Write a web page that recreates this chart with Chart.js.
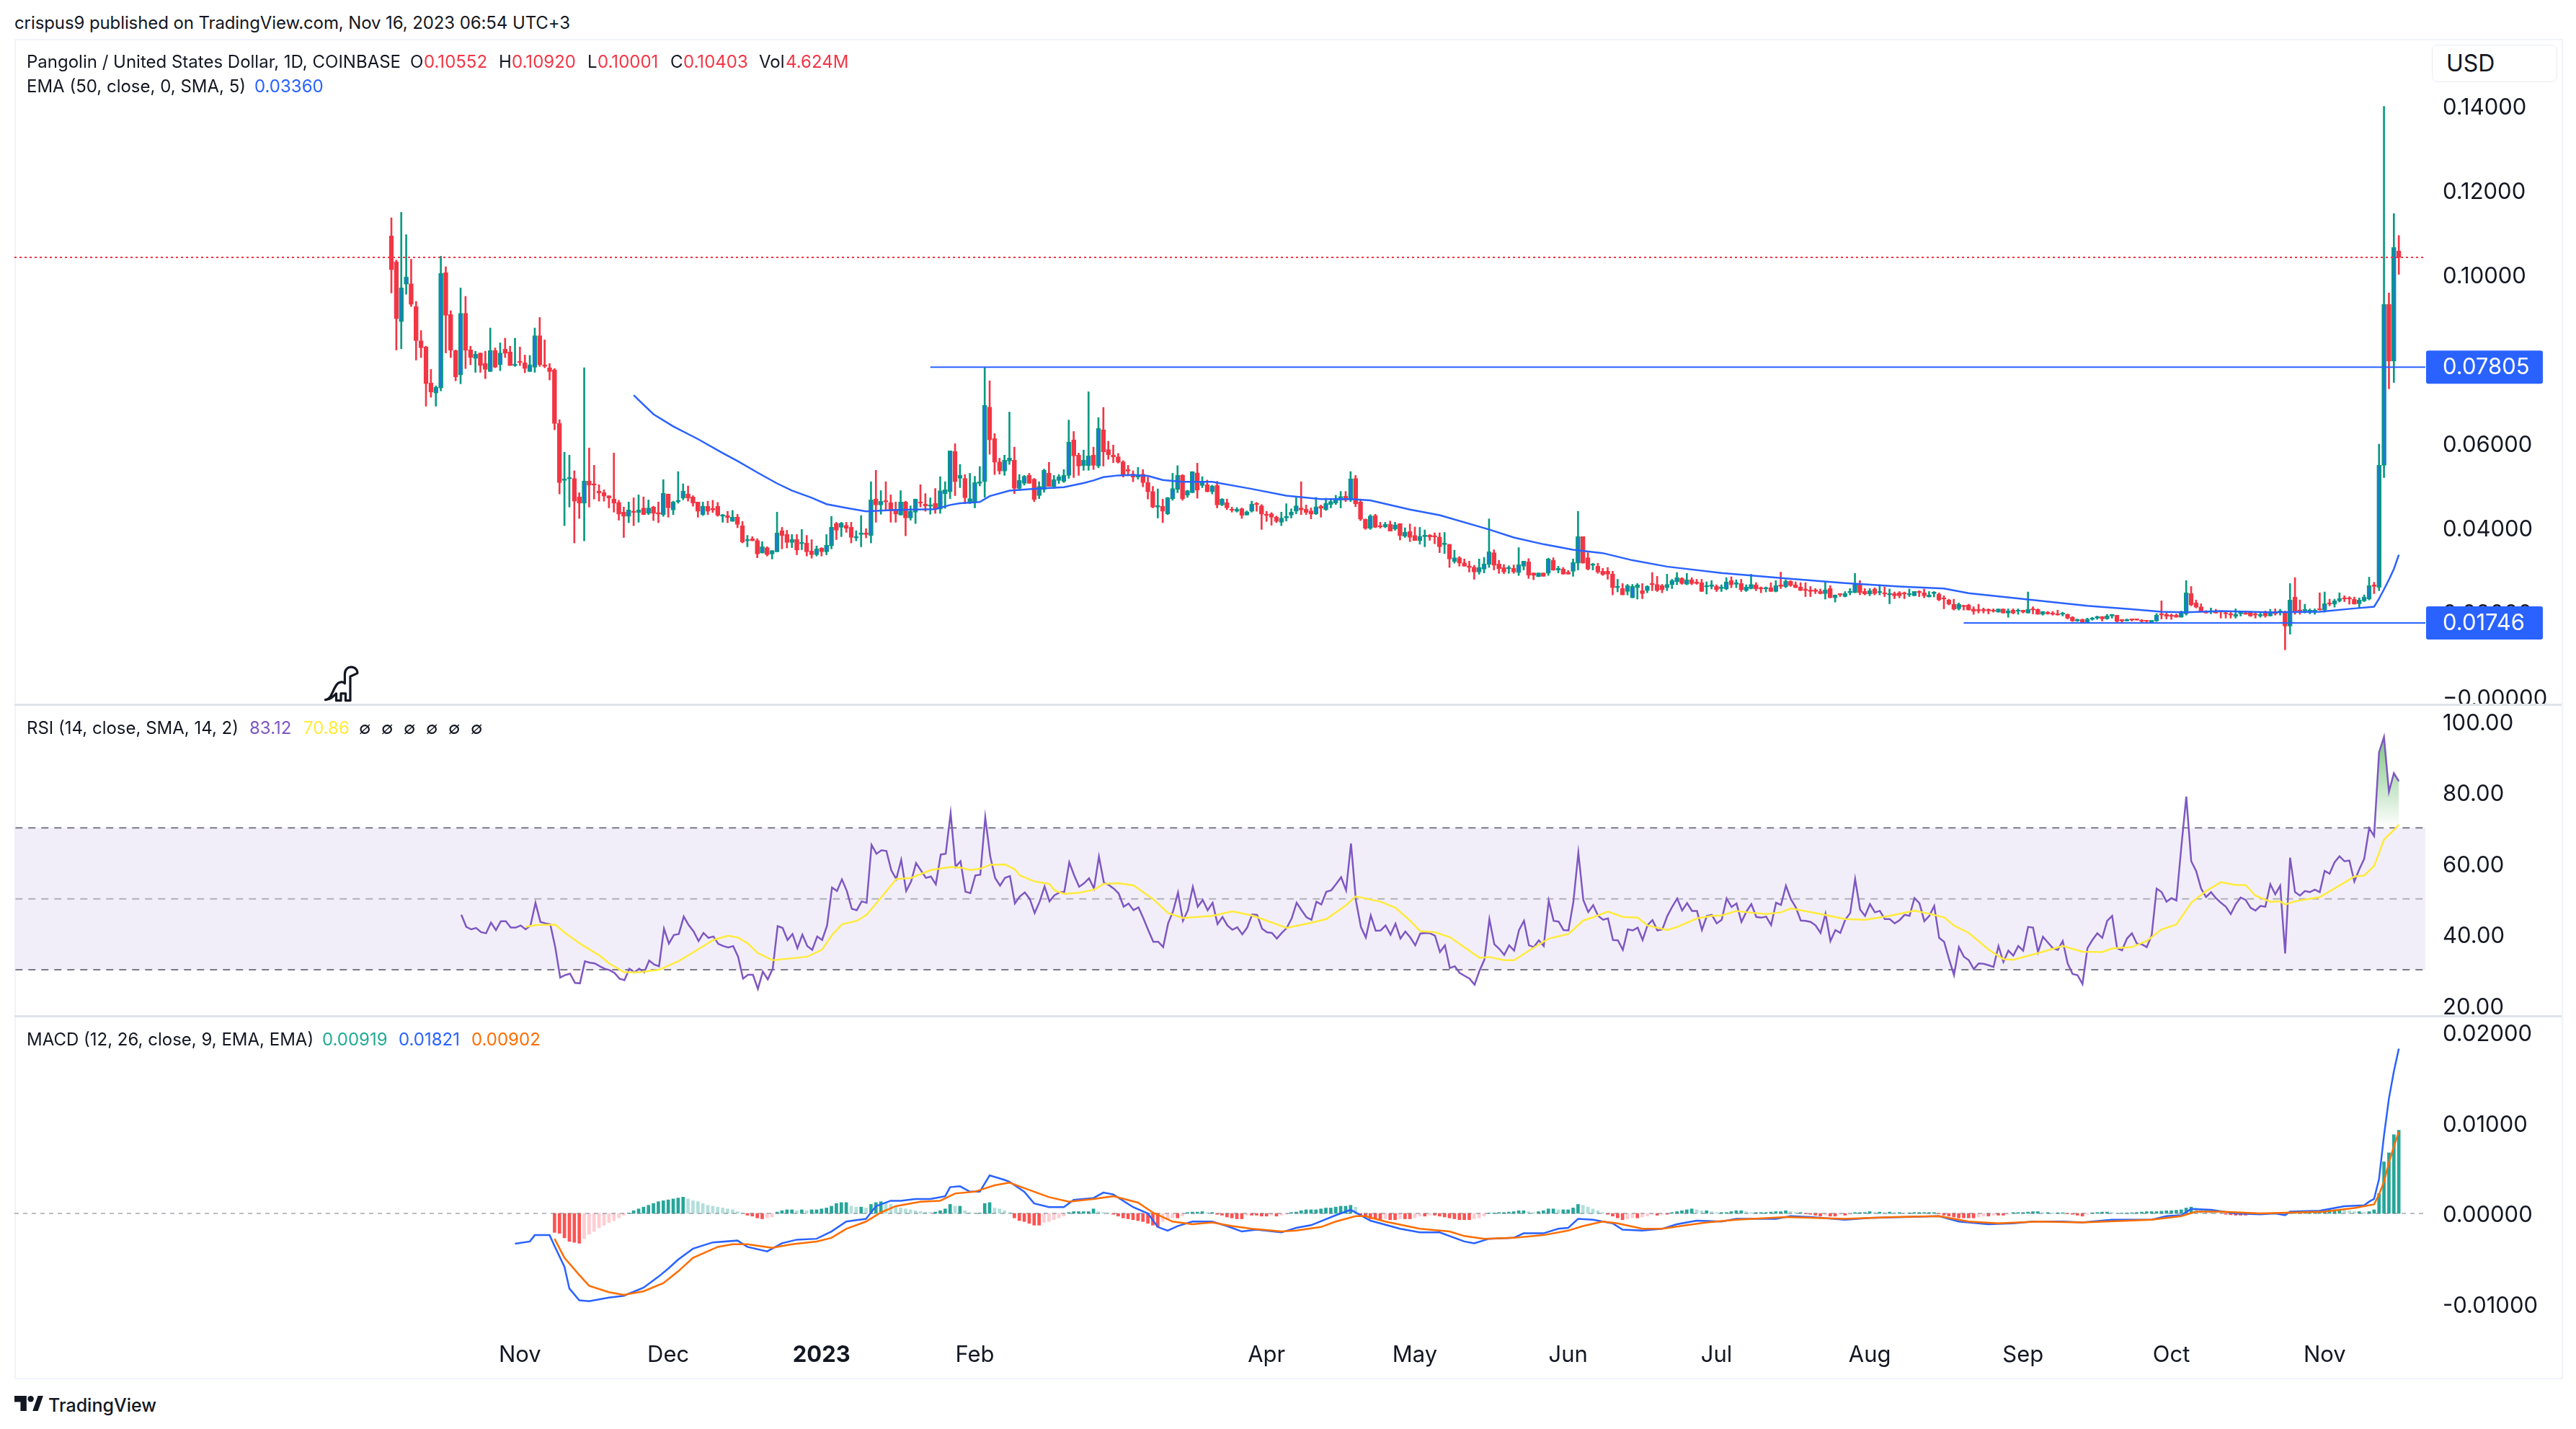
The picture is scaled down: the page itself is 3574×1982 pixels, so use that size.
<!DOCTYPE html>
<html lang="en">
<head>
<meta charset="UTF-8">
<title>Pangolin / United States Dollar</title>
<style>
  html, body { margin: 0; padding: 0; background: #fff; }
  body { width: 3574px; height: 1982px; position: relative; overflow: hidden; font-family: Inter, "Noto Sans", sans-serif; color: #131722; }
  canvas { position: absolute; left: 20px; }
  .frame { position: absolute; left: 20px; top: 54px; width: 3532px; height: 1855px; border: 2px solid #f0f3fa; }
  .sep { position: absolute; left: 20px; width: 3534px; height: 3px; background: #e0e3eb; }
  .t { position: absolute; font-size: 24px; line-height: 30px; white-space: nowrap; }
  .usd { position: absolute; left: 3374px; top: 62px; width: 172px; height: 50px; border: 1px solid #e9ecf2; border-radius: 8px; background: #fff; font-size: 32px; line-height: 50px; text-indent: 19px; }
  svg { position: absolute; }
</style>
</head>
<body>
<div class="frame"></div>
<canvas id="priceChart" width="3534" height="923" style="top:54px"></canvas>
<canvas id="rsiChart" width="3534" height="432" style="top:977px"></canvas>
<canvas id="macdChart" width="3534" height="502" style="top:1409px"></canvas>
<div class="sep" style="top:976px"></div>
<div class="sep" style="top:1408px"></div>

<div class="t" style="left:20px;top:17px;letter-spacing:-.1px">crispus9 published on TradingView.com, Nov 16, 2023 06:54 UTC+3</div>

<div class="t" style="left:37px;top:71px">Pangolin / United States Dollar, 1D, COINBASE</div>
<div class="t" style="left:569px;top:71px">O</div><div class="t" style="left:588px;top:71px;color:#f23645">0.10552</div>
<div class="t" style="left:692px;top:71px">H</div><div class="t" style="left:710px;top:71px;color:#f23645">0.10920</div>
<div class="t" style="left:815px;top:71px">L</div><div class="t" style="left:829px;top:71px;color:#f23645">0.10001</div>
<div class="t" style="left:930px;top:71px">C</div><div class="t" style="left:948px;top:71px;color:#f23645">0.10403</div>
<div class="t" style="left:1053px;top:71px">Vol</div><div class="t" style="left:1090px;top:71px;color:#f23645">4.624M</div>
<div class="t" style="left:37px;top:105px">EMA (50, close, 0, SMA, 5)</div><div class="t" style="left:353px;top:105px;color:#2962ff">0.03360</div>

<div class="t" style="left:37px;top:995px">RSI (14, close, SMA, 14, 2)</div>
<div class="t" style="left:346px;top:995px;color:#7e57c2">83.12</div><div class="t" style="left:421px;top:995px;color:#ffeb3b">70.86</div>
<div class="t" style="left:498px;top:995px">∅</div><div class="t" style="left:529px;top:995px">∅</div><div class="t" style="left:560px;top:995px">∅</div><div class="t" style="left:591px;top:995px">∅</div><div class="t" style="left:622px;top:995px">∅</div><div class="t" style="left:653px;top:995px">∅</div>

<div class="t" style="left:37px;top:1427px">MACD (12, 26, close, 9, EMA, EMA)</div>
<div class="t" style="left:447px;top:1427px;color:#22ab94">0.00919</div><div class="t" style="left:553px;top:1427px;color:#2962ff">0.01821</div><div class="t" style="left:654px;top:1427px;color:#ff6d00">0.00902</div>

<div class="usd">USD</div>

<svg style="left:448px;top:922px" width="50" height="54" viewBox="0 0 46 50"><path d="M3 45 C10 45 12 34 16 28 C20 20 26 22 28 24 L28 12 C28 6 32 3 36 3 C41 3 45 7 44 11 L35 15 L35 46 L29 46 L29 37 L23 37 L23 46 L17 46 L17 37 C13 41 9 45 3 45 Z" fill="#fff" stroke="#131722" stroke-width="3" stroke-linejoin="round"/></svg>
<svg style="left:20px;top:1936px" width="40" height="21" viewBox="0 0 38 20"><path d="M0 0H16V20H8V8H0Z M24 20L31 0H38L31 20Z" fill="#131722"/><circle cx="21.5" cy="4" r="4" fill="#131722"/></svg>
<div class="t" style="left:67px;top:1934px;font-size:25px;font-weight:500">TradingView</div>

<script src="https://cdn.jsdelivr.net/npm/chart.js"></script>
<script>
// day 0 = Oct 6 2022, one candle per day up to day 406
const opens = [
.1091,.1030,.0888,.0977,.0978,.0924,.0843,.0828,.0743,.0719,
.0731,.1004,.0905,.0820,.0762,.0908,.0821,.0801,.0814,.0789,
.0770,.0820,.0786,.0823,.0816,.0784,.0794,.0791,.0770,.0780,
.0855,.0786,.0779,.0774,.0647,.0512,.0516,.0517,.0473,.0458,
.0511,.0504,.0487,.0483,.0476,.0468,.0460,.0437,.0427,.0439,
.0436,.0447,.0434,.0449,.0436,.0431,.0480,.0442,.0461,.0470,
.0480,.0473,.0461,.0431,.0451,.0446,.0451,.0427,.0429,.0415,
.0425,.0405,.0369,.0374,.0370,.0340,.0353,.0338,.0343,.0393,
.0384,.0365,.0372,.0362,.0364,.0345,.0336,.0352,.0343,.0357,
.0410,.0401,.0406,.0401,.0376,.0384,.0388,.0382,.0468,.0454,
.0464,.0459,.0444,.0430,.0461,.0423,.0437,.0461,.0456,.0451,
.0458,.0444,.0481,.0485,.0581,.0517,.0517,.0461,.0461,.0505,
.0509,.0686,.0611,.0556,.0534,.0558,.0560,.0493,.0505,.0524,
.0515,.0476,.0490,.0529,.0498,.0512,.0510,.0524,.0608,.0572,
.0547,.0547,.0572,.0546,.0632,.0585,.0572,.0568,.0556,.0538,
.0527,.0520,.0527,.0507,.0486,.0449,.0451,.0433,.0469,.0491,
.0524,.0477,.0483,.0530,.0500,.0502,.0485,.0500,.0454,.0459,
.0444,.0439,.0445,.0430,.0439,.0458,.0452,.0431,.0433,.0425,
.0413,.0423,.0430,.0439,.0447,.0444,.0440,.0433,.0451,.0443,
.0455,.0458,.0465,.0475,.0466,.0517,.0461,.0420,.0399,.0429,
.0405,.0402,.0408,.0397,.0410,.0380,.0391,.0382,.0370,.0379,
.0383,.0380,.0378,.0360,.0361,.0320,.0329,.0317,.0310,.0307,
.0295,.0302,.0313,.0341,.0314,.0306,.0303,.0304,.0294,.0309,
.0319,.0293,.0284,.0293,.0292,.0323,.0300,.0302,.0295,.0297,
.0316,.0379,.0329,.0311,.0309,.0297,.0297,.0290,.0258,.0256,
.0249,.0234,.0258,.0251,.0251,.0268,.0266,.0263,.0258,.0265,
.0272,.0280,.0266,.0277,.0272,.0270,.0260,.0261,.0261,.0256,
.0255,.0275,.0266,.0268,.0251,.0256,.0265,.0258,.0255,.0258,
.0249,.0265,.0260,.0273,.0265,.0260,.0255,.0253,.0253,.0249,
.0244,.0256,.0234,.0244,.0237,.0246,.0246,.0268,.0249,.0243,
.0255,.0246,.0246,.0241,.0244,.0246,.0246,.0241,.0239,.0249,
.0246,.0236,.0244,.0243,.0234,.0229,.0219,.0208,.0215,.0217,
.0208,.0207,.0207,.0207,.0205,.0200,.0208,.0198,.0205,.0202,
.0205,.0198,.0208,.0207,.0195,.0200,.0198,.0196,.0195,.0195,
.0188,.0179,.0183,.0174,.0183,.0186,.0190,.0184,.0191,.0193,
.0183,.0179,.0184,.0184,.0181,.0181,.0174,.0179,.0196,.0195,
.0193,.0193,.0188,.0196,.0244,.0222,.0213,.0203,.0200,.0203,
.0201,.0198,.0195,.0190,.0196,.0198,.0202,.0195,.0191,.0200,
.0191,.0201,.0200,.0201,.0167,.0236,.0205,.0203,.0200,.0200,
.0208,.0205,.0222,.0219,.0227,.0234,.0234,.0231,.0220,.0227,
.0231,.0265,.0259,.0548,.0929,.0795,.10552];
const highs = [
.1134,.1034,.1147,.1094,.1036,.0936,.0867,.0830,.0775,.0736,
.1043,.1018,.0914,.0821,.0968,.0948,.0830,.0818,.0814,.0818,
.0873,.0826,.0838,.0849,.0830,.0849,.0828,.0809,.0808,.0873,
.0898,.0845,.0789,.0777,.0656,.0579,.0572,.0535,.0483,.0779,
.0589,.0548,.0502,.0490,.0476,.0577,.0465,.0449,.0461,.0471,
.0478,.0473,.0466,.0451,.0461,.0514,.0480,.0463,.0533,.0504,
.0499,.0476,.0461,.0461,.0463,.0465,.0460,.0432,.0439,.0441,
.0432,.0415,.0382,.0379,.0374,.0367,.0355,.0346,.0437,.0401,
.0394,.0384,.0384,.0396,.0382,.0372,.0357,.0353,.0384,.0427,
.0413,.0413,.0413,.0413,.0393,.0429,.0398,.0509,.0536,.0488,
.0509,.0478,.0461,.0488,.0463,.0452,.0468,.0502,.0481,.0471,
.0493,.0521,.0509,.0582,.0599,.0550,.0526,.0529,.0522,.0545,
.0779,.0748,.0623,.0565,.0572,.0674,.0591,.0526,.0524,.0529,
.0517,.0509,.0539,.0555,.0524,.0526,.0538,.0655,.0628,.0577,
.0584,.0722,.0591,.0661,.0685,.0605,.0596,.0576,.0559,.0548,
.0535,.0543,.0538,.0520,.0498,.0492,.0468,.0472,.0529,.0547,
.0526,.0489,.0533,.0553,.0521,.0513,.0501,.0510,.0469,.0468,
.0449,.0448,.0447,.0440,.0463,.0460,.0455,.0439,.0436,.0428,
.0437,.0457,.0445,.0471,.0509,.0454,.0447,.0472,.0454,.0470,
.0468,.0477,.0486,.0486,.0533,.0524,.0468,.0421,.0431,.0432,
.0413,.0413,.0416,.0413,.0410,.0400,.0409,.0402,.0401,.0395,
.0384,.0388,.0388,.0389,.0361,.0347,.0332,.0326,.0321,.0311,
.0326,.0330,.0421,.0348,.0323,.0313,.0310,.0312,.0353,.0321,
.0327,.0293,.0293,.0293,.0328,.0329,.0309,.0306,.0299,.0326,
.0439,.0379,.0341,.0316,.0316,.0304,.0306,.0297,.0278,.0268,
.0266,.0266,.0268,.0268,.0263,.0294,.0285,.0266,.0290,.0278,
.0294,.0282,.0292,.0282,.0278,.0278,.0272,.0275,.0265,.0265,
.0282,.0284,.0277,.0278,.0265,.0290,.0270,.0260,.0260,.0270,
.0275,.0295,.0277,.0275,.0272,.0270,.0270,.0261,.0256,.0255,
.0273,.0263,.0241,.0244,.0249,.0256,.0292,.0275,.0256,.0256,
.0258,.0265,.0260,.0255,.0248,.0249,.0248,.0255,.0249,.0251,
.0255,.0249,.0249,.0246,.0239,.0231,.0231,.0222,.0217,.0219,
.0213,.0219,.0210,.0208,.0208,.0208,.0208,.0208,.0208,.0208,
.0205,.0248,.0213,.0208,.0202,.0202,.0202,.0205,.0200,.0196,
.0190,.0184,.0184,.0186,.0188,.0191,.0190,.0195,.0195,.0193,
.0183,.0184,.0184,.0184,.0183,.0181,.0181,.0197,.0227,.0198,
.0196,.0196,.0203,.0275,.0261,.0229,.0220,.0204,.0210,.0207,
.0203,.0200,.0203,.0208,.0201,.0203,.0202,.0198,.0198,.0203,
.0207,.0208,.0207,.0203,.0268,.0282,.0229,.0219,.0208,.0208,
.0246,.0248,.0231,.0231,.0246,.0239,.0237,.0236,.0234,.0241,
.0283,.0271,.0598,.1398,.0956,.1144,.10920];
const lows = [
.0956,.0821,.0824,.0953,.0924,.0797,.0803,.0688,.0709,.0688,
.0724,.0814,.0803,.0748,.0741,.0777,.0786,.0768,.0768,.0753,
.0770,.0779,.0772,.0803,.0784,.0782,.0784,.0767,.0770,.0768,
.0782,.0779,.0750,.0632,.0480,.0405,.0449,.0364,.0422,.0369,
.0449,.0468,.0463,.0463,.0447,.0437,.0418,.0377,.0412,.0405,
.0413,.0431,.0431,.0417,.0412,.0427,.0425,.0431,.0458,.0466,
.0463,.0451,.0425,.0429,.0431,.0436,.0427,.0413,.0412,.0415,
.0400,.0364,.0355,.0369,.0329,.0340,.0333,.0326,.0343,.0350,
.0352,.0353,.0336,.0348,.0333,.0328,.0333,.0333,.0336,.0350,
.0372,.0379,.0389,.0364,.0369,.0355,.0376,.0364,.0413,.0432,
.0440,.0413,.0413,.0430,.0381,.0418,.0410,.0449,.0439,.0432,
.0434,.0434,.0446,.0469,.0476,.0495,.0457,.0457,.0447,.0499,
.0472,.0574,.0526,.0527,.0524,.0550,.0481,.0488,.0501,.0505,
.0462,.0469,.0484,.0498,.0493,.0505,.0507,.0517,.0519,.0524,
.0536,.0536,.0538,.0542,.0546,.0562,.0554,.0553,.0520,.0523,
.0509,.0515,.0497,.0468,.0447,.0423,.0412,.0431,.0465,.0483,
.0465,.0472,.0483,.0470,.0495,.0485,.0480,.0447,.0452,.0443,
.0437,.0437,.0422,.0430,.0437,.0439,.0396,.0415,.0406,.0412,
.0405,.0416,.0423,.0433,.0431,.0431,.0421,.0431,.0425,.0441,
.0447,.0455,.0447,.0462,.0462,.0450,.0417,.0396,.0396,.0400,
.0399,.0400,.0392,.0394,.0371,.0377,.0367,.0370,.0361,.0355,
.0370,.0362,.0341,.0339,.0306,.0316,.0309,.0309,.0295,.0278,
.0290,.0293,.0306,.0300,.0292,.0291,.0292,.0292,.0287,.0300,
.0280,.0277,.0284,.0285,.0287,.0299,.0293,.0290,.0290,.0285,
.0300,.0316,.0300,.0300,.0292,.0287,.0278,.0241,.0248,.0241,
.0241,.0234,.0231,.0232,.0246,.0251,.0249,.0246,.0251,.0256,
.0265,.0266,.0265,.0265,.0266,.0249,.0243,.0255,.0249,.0249,
.0253,.0258,.0258,.0249,.0249,.0255,.0251,.0246,.0248,.0249,
.0248,.0256,.0258,.0261,.0258,.0251,.0237,.0237,.0244,.0243,
.0231,.0234,.0224,.0237,.0236,.0241,.0246,.0241,.0241,.0239,
.0241,.0241,.0237,.0220,.0232,.0234,.0232,.0237,.0239,.0237,
.0234,.0236,.0236,.0227,.0208,.0217,.0205,.0205,.0205,.0205,
.0195,.0198,.0198,.0196,.0200,.0200,.0198,.0188,.0196,.0195,
.0198,.0198,.0196,.0195,.0193,.0195,.0193,.0193,.0191,.0184,
.0178,.0178,.0174,.0174,.0181,.0183,.0179,.0183,.0186,.0176,
.0176,.0179,.0179,.0181,.0174,.0174,.0174,.0178,.0184,.0184,
.0183,.0188,.0188,.0193,.0215,.0210,.0200,.0198,.0196,.0198,
.0186,.0186,.0186,.0186,.0191,.0195,.0190,.0186,.0188,.0188,
.0191,.0193,.0193,.0111,.0148,.0195,.0195,.0198,.0196,.0195,
.0205,.0200,.0215,.0212,.0224,.0225,.0219,.0219,.0210,.0225,
.0229,.0244,.0251,.0519,.0729,.0744,.10001];
const closes = [
.1011,.0895,.0968,.0994,.0929,.0843,.0826,.0741,.0721,.0733,
.1002,.0903,.0820,.0757,.0908,.0820,.0803,.0811,.0784,.0775,
.0820,.0780,.0814,.0813,.0784,.0787,.0791,.0777,.0786,.0855,
.0786,.0782,.0770,.0647,.0507,.0516,.0519,.0463,.0458,.0511,
.0501,.0501,.0482,.0475,.0470,.0458,.0432,.0427,.0442,.0436,
.0442,.0431,.0447,.0434,.0432,.0482,.0447,.0461,.0465,.0487,
.0470,.0458,.0439,.0451,.0439,.0442,.0429,.0431,.0424,.0425,
.0408,.0366,.0372,.0369,.0338,.0355,.0336,.0346,.0388,.0382,
.0365,.0372,.0347,.0365,.0343,.0336,.0350,.0343,.0359,.0401,
.0394,.0411,.0399,.0377,.0379,.0388,.0384,.0466,.0454,.0463,
.0461,.0440,.0432,.0461,.0423,.0439,.0468,.0458,.0452,.0454,
.0444,.0488,.0490,.0582,.0509,.0524,.0471,.0469,.0507,.0509,
.0690,.0608,.0555,.0534,.0560,.0565,.0493,.0512,.0522,.0505,
.0467,.0498,.0536,.0498,.0514,.0521,.0524,.0603,.0570,.0546,
.0560,.0570,.0548,.0635,.0580,.0573,.0568,.0555,.0524,.0534,
.0520,.0526,.0507,.0485,.0449,.0452,.0439,.0471,.0493,.0524,
.0469,.0488,.0533,.0489,.0509,.0485,.0499,.0454,.0468,.0447,
.0441,.0444,.0429,.0438,.0456,.0455,.0432,.0429,.0425,.0415,
.0423,.0427,.0437,.0452,.0442,.0436,.0432,.0450,.0446,.0458,
.0462,.0468,.0474,.0465,.0516,.0457,.0420,.0399,.0428,.0401,
.0402,.0408,.0392,.0407,.0381,.0389,.0377,.0370,.0380,.0382,
.0378,.0378,.0355,.0364,.0326,.0329,.0316,.0309,.0306,.0295,
.0306,.0314,.0343,.0311,.0303,.0295,.0306,.0295,.0313,.0321,
.0288,.0287,.0293,.0285,.0326,.0300,.0304,.0290,.0290,.0318,
.0379,.0316,.0302,.0314,.0295,.0289,.0290,.0258,.0261,.0241,
.0263,.0261,.0265,.0244,.0261,.0265,.0251,.0253,.0266,.0275,
.0282,.0268,.0277,.0268,.0268,.0249,.0263,.0265,.0253,.0260,
.0272,.0265,.0270,.0253,.0260,.0266,.0255,.0255,.0258,.0249,
.0263,.0261,.0273,.0263,.0258,.0251,.0251,.0249,.0249,.0244,
.0253,.0234,.0241,.0241,.0244,.0249,.0268,.0246,.0243,.0251,
.0244,.0249,.0243,.0244,.0239,.0239,.0243,.0244,.0249,.0246,
.0239,.0241,.0248,.0229,.0231,.0219,.0207,.0219,.0213,.0205,
.0202,.0203,.0203,.0203,.0202,.0208,.0198,.0203,.0198,.0205,
.0200,.0207,.0205,.0195,.0202,.0196,.0195,.0193,.0198,.0186,
.0179,.0183,.0174,.0184,.0186,.0190,.0184,.0191,.0195,.0178,
.0179,.0183,.0181,.0181,.0178,.0178,.0181,.0193,.0193,.0190,
.0190,.0188,.0200,.0246,.0217,.0212,.0201,.0198,.0203,.0198,
.0200,.0196,.0193,.0195,.0200,.0195,.0191,.0193,.0195,.0191,
.0201,.0196,.0203,.0167,.0229,.0200,.0200,.0207,.0205,.0205,
.0205,.0220,.0219,.0227,.0232,.0231,.0231,.0219,.0229,.0236,
.0263,.0261,.0548,.0929,.0795,.1064,.10403];

const emaDays = [49,53,57,62,67,70,74,78,81,85,88,92,96,101,106,110,113,115,119,121,125,130,136,140,142,144,147,150,153,156,160,166,174,181,188,194,198,206,212,222,227,233,239,245,251,258,269,282,294,305,314,319,331,343,352,358,363,370,380,390,397,401,402,403,404,405,406];
const emaValues = [.0714,.0669,.0640,.0610,.0577,.0558,.0531,.0505,.0488,.0471,.0456,.0447,.0439,.0442,.0443,.0444,.0454,.0458,.0461,.0475,.0488,.0492,.0496,.0506,.0512,.0520,.0524,.0525,.0523,.0513,.0509,.0509,.0492,.0476,.0468,.0468,.0465,.0443,.0430,.0396,.0377,.0361,.0348,.0340,.0323,.0308,.0293,.0280,.0269,.0261,.0256,.0245,.0230,.0215,.0207,.0201,.0200,.0203,.0200,.0201,.0209,.0213,.0232,.0254,.0277,.0302,.0336];

const levelLines = [.07805, .01746];
const levelStartDays = [109, 318];
const lastClose = .10403;

const priceTicks = [0, .02, .04, .06, .10, .12, .14];
const priceTickLabels = ['−0.00000', '0.02000', '0.04000', '0.06000', '0.10000', '0.12000', '0.14000'];

// RSI starts at day 14
const rsiStartDay = 14;
const rsiValues = [
45.5,42.1,41.4,41.8,40.6,40.3,
43.3,41.2,43.7,43.7,41.9,41.9,42.5,41.4,42.5,48.9,
43.5,43.1,42.8,36.4,27.8,28.5,28.9,26.3,26.2,32.4,
32,31.8,31,30.3,29.9,29.1,27.5,27.1,30.3,29.3,
30.3,29.3,32.6,31.5,31,41.6,37.4,39.8,40.1,45,
42.6,40.8,38.1,40.4,39,39.4,37.3,36.7,36.3,36.7,
33.7,27.5,28.6,28.6,24.6,29.5,27.3,30.3,42.3,41.8,
38.4,40.1,36.1,39.9,36.7,35.6,39.4,38.4,42.5,53.2,
52.2,55.5,52.2,47.2,46.8,49.3,48.9,65.2,62.7,63.7,
63.5,58,55.6,61,52.2,54.9,60.1,58,55.9,56.3,
54.1,62.5,62.7,74.1,59,60.6,52,51.6,56.6,56.8,
73,62,55.9,53.7,55.9,56.4,48.7,50.7,51.8,50,
46,49.2,53.5,49.3,51,51.8,52,60.3,56.6,53.4,
54.4,55.8,52.9,61.9,54.6,53.9,52.9,51.5,47.8,48.7,
46.8,47.6,44.5,41.1,37.9,37.9,36.4,43.1,46.5,51.8,
43.8,46.8,53.4,47.8,49.7,46.8,48.9,42.9,44.9,42.5,
41.3,42,40,41.9,45.6,45.5,41.6,40.6,40.4,38.8,
40.4,41.8,44.5,48.9,46.8,44.8,44.1,49.2,48.4,52,
52.4,54.2,56.1,52.4,65.6,49.5,42.1,39.1,45.3,41,
41.1,42.5,39.9,43,38.8,40.8,39.1,36.9,40.2,40.4,
40.3,39.6,35,36.9,30.5,31,29.1,28.3,27.5,25.8,
29.7,32.9,44.3,37.2,35.9,34.2,36.9,35.4,41.2,43.8,
36.9,36.4,38.3,36.7,49.5,43.8,43.6,41.2,41.1,49.2,
63,49.7,46.3,48.2,45.2,44.1,44.5,38.4,38.3,35.6,
41.4,41.1,41.9,38.4,42.6,44,41.1,41.4,45.2,47.8,
50.1,46.7,48.8,46.6,46.6,41.2,45.2,45.5,43.1,44.1,
50.1,47.7,48.7,43.5,46.4,48.5,44.9,44.7,45,42.6,
48.9,48.3,53.7,49.9,47.6,43.9,43.8,43.5,42.5,40.4,
45.8,38.1,41.2,40.4,44.1,46,55.6,47,45.2,48.5,
46.2,46.6,44.3,44.3,43.1,44,45.5,45.2,50.2,48.8,
43.7,45.2,48,39,37.9,33,28.5,36.4,33.7,32.7,
30.2,31.8,31.7,31.3,30.8,36.7,32.2,35.4,34,36.7,
35.4,42.1,41.9,35,39.3,37.7,36.1,35.6,38.1,31.8,
28.8,28.5,26,36.1,38.4,40.3,39,43.8,45.2,36.1,
35.5,38.8,40.3,37.4,37.2,36.4,39.8,52.9,51.9,49.2,
50.2,49.5,64.7,78.8,60.6,57.8,52.9,50.5,51.9,50.2,
48.9,47.8,45.7,48.5,50.4,49.7,47.5,46.7,48,47.8,
54.1,51.3,53.7,34.6,61.6,51.9,50.9,52.2,51.9,52.6,
51.9,57.9,57.1,60.3,62,60.6,60.8,54.9,58.3,61.3,
69.9,67.7,91.3,95.6,80.2,85.4,83.12];
const rsiMaDays = [27,29,33,35,38,42,44,47,50,54,58,61,65,68,70,72,74,77,82,84,87,89,91,94,96,99,102,105,109,113,115,117,119,121,124,126,127,130,133,134,136,139,142,144,147,150,154,157,160,166,170,174,181,186,189,193,195,200,203,206,208,211,214,220,222,225,227,230,234,238,241,243,246,249,252,254,258,260,264,267,269,272,275,278,281,283,285,289,294,298,303,308,311,314,316,319,323,326,328,333,338,342,346,348,352,355,358,361,364,367,370,373,375,377,380,382,383,385,390,395,397,399,401,403,405,406];
const rsiMaValues = [42.1,42.6,42.7,40.4,37.4,34,31.7,29.3,29.3,30,32.5,35,38.4,39.6,39.1,37.4,34.7,32.7,33.4,33.7,35.7,39.8,42.8,43.8,45.5,50.5,55.6,55.9,58.1,59,58.8,58.1,58.5,59.6,59.7,58.3,56.6,54.9,54.2,52.4,51.4,51.7,52.6,54.2,54.4,53.8,49.9,46,44.6,45.2,46.5,45.3,41.8,43.3,44.3,48.2,50.7,49.2,47.5,43.8,40.9,40.6,39.2,33.4,33.6,32.7,32.7,35.4,38.8,40.1,43.9,44.8,46.4,44.9,44.7,42.5,41.2,42.1,44.5,45.2,45.3,46.6,46.1,45.7,46.2,47.3,46.8,45.7,44.3,44.1,45.2,46.7,45.8,44.8,42.5,40.4,35.7,33,32.8,34.7,36.7,35.1,35,36,36.4,38.1,41.4,42.8,48.9,52.2,54.7,53.9,53.9,50.9,49.2,49.3,48.4,49.3,50.5,54.6,56.3,56.6,59.3,66.7,69.4,70.86];
const rsiLevels = [70, 50, 30];
const rsiTicks = [20, 40, 60, 80, 100];
const rsiTickLabels = ['20.00', '40.00', '60.00', '80.00', '100.00'];

const macdDays = [25,28,29,32,33,35,36,38,40,44,47,51,54,56,58,61,65,70,72,76,79,82,86,89,92,96,98,101,103,106,109,112,113,115,117,119,121,124,125,128,130,133,136,138,142,144,146,150,153,155,157,159,162,166,169,172,175,180,183,186,191,194,198,204,208,212,217,219,222,227,229,233,236,238,240,243,247,249,253,257,260,264,269,272,280,283,287,294,299,313,317,323,328,332,338,342,348,356,359,362,364,368,373,378,381,383,384,390,395,399,400,401,402,403,404,405,406];
const macdValues = [-.00335,-.0031,-.0024,-.0024,-.0036,-.0059,-.0083,-.0096,-.0097,-.0093,-.0091,-.0082,-.0070,-.0061,-.0051,-.0039,-.0032,-.0030,-.0037,-.0042,-.0033,-.0029,-.0028,-.0020,-.0009,-.0006,.0008,.0014,.0014,.0016,.0016,.0019,.0029,.0030,.0024,.0024,.0042,.0037,.0035,.0024,.0011,.0007,.0007,.0015,.0017,.0023,.0021,.0007,0,-.0015,-.0019,-.0014,-.0009,-.0009,-.0014,-.0020,-.0018,-.0021,-.0016,-.0013,-.0002,.0004,-.0008,-.0017,-.0021,-.0021,-.0031,-.0033,-.0028,-.0027,-.0022,-.0022,-.0017,-.0016,-.0006,-.0007,-.0011,-.0018,-.0019,-.0017,-.0012,-.0008,-.0009,-.0006,-.0006,-.0003,-.0004,-.0007,-.0005,-.0003,-.0009,-.0012,-.0011,-.0009,-.0009,-.0010,-.0007,-.0007,-.0003,-.0002,.0005,.0004,0,-.0001,0,-.0002,.0002,.0003,.0008,.0009,.0013,.0016,.0038,.0086,.0127,.0157,.01821];
const signalDays = [33,35,38,40,44,47,51,55,58,61,66,69,72,77,81,86,89,92,96,99,102,107,111,114,118,122,125,128,133,137,142,146,151,154,158,162,166,170,174,180,183,188,191,195,197,201,208,214,217,221,227,233,238,241,245,248,253,257,262,266,272,282,294,304,313,319,325,333,342,356,362,365,370,378,391,397,401,402,403,404,405,406];
const signalValues = [-.0028,-.0049,-.0068,-.0080,-.0087,-.0090,-.0086,-.0077,-.0064,-.0049,-.0037,-.0034,-.0034,-.0038,-.0034,-.0031,-.0027,-.0017,-.0009,.0001,.0008,.0013,.0014,.0022,.0024,.0031,.0034,.0028,.0018,.0013,.0016,.0019,.0012,.0001,-.0009,-.0012,-.0010,-.0014,-.0017,-.0020,-.0019,-.0015,-.0009,-.0003,-.0003,-.0009,-.0017,-.0020,-.0025,-.0028,-.0027,-.0024,-.0019,-.0014,-.0009,-.0011,-.0017,-.0017,-.0013,-.0010,-.0007,-.0004,-.0006,-.0004,-.0003,-.0009,-.0011,-.0009,-.0010,-.0007,-.0003,.0002,.0002,0,.0002,.0006,.0010,.0021,.0035,.0056,.0074,.00902];
// histogram starts at day 33
const histStartDay = 33;
const histValues = [
-.0021,-.0022,-.0027,-.0031,-.0032,-.0033,-.0028,
-.0023,-.0020,-.0016,-.0013,-.0010,-.0008,-.0005,-.0002,.00005,.0003,
.0005,.0007,.0009,.0011,.0013,.0014,.0015,.0016,.0017,.0018,
.0016,.0014,.0013,.0011,.0009,.0008,.0007,.0006,.0005,.0004,
.0002,.00005,-.0002,-.0003,-.0005,-.0006,-.0005,-.0004,.00015,.0003,
.0004,.0004,.0003,.0004,.0003,.0004,.0004,.0005,.0006,.0008,
.0011,.0012,.0012,.0008,.0007,.0007,.0006,.0010,.0012,.0013,
.0012,.0010,.0008,.0006,.0005,.0004,.0003,.0002,.00015,.0001,
.00015,.0003,.0005,.0010,.0008,.0008,.0003,.0001,.00005,.00005,
.0011,.0012,.0006,.0005,.0003,.0001,-.0005,-.0008,-.0009,-.0011,
-.0013,-.0013,-.0010,-.0009,-.0007,-.0005,-.0003,.0001,.0002,.0002,
.0002,.0002,.0005,.0002,.0001,.00005,-.0001,-.0003,-.0005,-.0006,
-.0007,-.0008,-.0009,-.0011,-.0013,-.0015,-.0009,-.0007,-.0005,-.0005,
-.0003,.0001,.00015,.00015,.0002,.0001,.0001,-.0001,-.0002,-.0004,
-.0005,-.0006,-.0006,-.0002,-.0002,-.0002,-.0003,-.0003,-.0002,-.0003,
-.0002,-.0001,.0001,.00015,.0003,.0004,.0004,.0004,.0005,.0006,
.0006,.0007,.0008,.0008,.0009,.0007,-.0002,-.0004,-.0006,-.0006,
-.0007,-.0006,-.0007,-.0007,-.0006,-.0006,-.0006,-.0005,-.0003,-.0003,
-.0002,-.0002,-.0003,-.0004,-.0005,-.0006,-.0007,-.0007,-.0007,-.0006,
-.0005,-.0003,.00005,.00005,.0001,.0001,.00015,.0002,.0003,.0003,
.0002,.0001,.0002,.0003,.0005,.0005,.0004,.0004,.0004,.0006,
.0010,.0009,.0007,.0005,.0003,.0001,-.0001,-.0003,-.0005,-.0007,
-.0006,-.0005,-.0005,-.0004,-.0003,-.0001,-.0002,-.0001,-.0001,.0001,
.0002,.0003,.0004,.0005,.0004,.0003,.0003,.0002,.0001,.0001,
.0001,.0002,.0003,.0003,.0002,.0001,.0001,.0001,.0001,.00015,
.0002,.0002,.0003,.0002,.0001,.0001,-.00005,-.0001,-.0002,-.0003,
-.0002,-.0003,-.0003,-.0001,-.0002,-.0001,.0001,.0001,.0001,.0002,
.0001,.00015,.0001,.00015,.0001,.0001,.00007,.00007,.0001,.0001,
.0001,.0001,.0001,-.00005,-.0002,-.0003,-.0004,-.0005,-.0005,-.0005,
-.0005,-.0004,-.0003,-.0003,-.0002,-.0002,-.0002,-.0001,.0001,.0001,
.0001,.00015,.0002,.0002,.0001,.0001,.00007,.00007,.00007,-.00005,
-.0001,-.0002,-.0003,-.0001,.00007,.0001,.00015,.00015,.0001,.00005,
.00005,.00005,.00007,.0001,.00015,.0002,.0002,.0002,.00025,.0003,
.0003,.00035,.0004,.0006,.0007,.0006,.0005,.0004,.0003,.0002,
.0001,-.0001,-.00015,-.0002,-.0002,-.0002,-.0001,-.0001,-.0001,-.00005,
-.00005,.00005,.00007,.00007,.0001,.00015,.00015,.00015,.0002,.00025,
.0003,.00035,.0004,.0004,.00045,.0004,.0003,.0002,.0002,.00015,
.0002,.0004,.0022,.0057,.0067,.0087,.00919];
const macdZero = 0;
const macdTicks = [-.01, 0, .01, .02];
const macdTickLabels = ['-0.01000', '0.00000', '0.01000', '0.02000'];

const monthDays = [26, 56, 87, 118, 177, 207, 238, 268, 299, 330, 360, 391];
const monthLabels = ['Nov', 'Dec', '2023', 'Feb', 'Apr', 'May', 'Jun', 'Jul', 'Aug', 'Sep', 'Oct', 'Nov'];

const GREEN = '#089981', RED = '#f23645', BLUE = '#2962ff', CANDLE_BLUE = '#1e78dc';
const FONT = 'Inter, "Noto Sans", sans-serif';
const xMin = -76.24, xMax = 411.37;
const axisWidth = 189;

// chart.js pads the plot for tick labels, the panes here must fill their canvas
function noPadding(s) {
  s.paddingTop = s.paddingBottom = s.paddingLeft = s.paddingRight = 0;
}

function rightAxis(min, max, ticks, labels) {
  return {
    position: 'right', min: min, max: max,
    afterFit: s => { s.width = axisWidth; noPadding(s); },
    afterBuildTicks: s => { s.ticks = ticks.map(v => ({ value: v })); },
    border: { display: false },
    grid: { display: false, drawTicks: false },
    ticks: { autoSkip: false, padding: 24, labelOffset: 3, color: '#131722', font: { family: FONT, size: 31 }, callback: (v, i) => labels[i] }
  };
}

function hiddenX() {
  return { type: 'linear', display: false, offset: false, min: xMin, max: xMax };
}

const baseOptions = {
  responsive: false,
  animation: false,
  events: [],
  layout: { padding: 0 },
  elements: { point: { radius: 0 }, line: { tension: 0 } },
  plugins: { legend: { display: false }, tooltip: { enabled: false } }
};

function series(days, values) {
  return days.map((d, i) => ({ x: d, y: values[i] }));
}
function hLine(value, from) {
  return [{ x: from, y: value }, { x: xMax, y: value }];
}

// price pane
const dayIndex = closes.map((c, i) => i);
const isUp = dayIndex.map(i => closes[i] >= opens[i]);

const priceFlags = {
  id: 'priceFlags',
  afterDraw(chart) {
    const ctx = chart.ctx, y = chart.scales.y;
    levelLines.forEach(v => {
      const py = y.getPixelForValue(v);
      ctx.save();
      ctx.fillStyle = BLUE;
      ctx.beginPath();
      ctx.roundRect(3346, py - 23, 162, 46, 3);
      ctx.fill();
      ctx.fillStyle = '#fff';
      ctx.font = '31px ' + FONT;
      ctx.textBaseline = 'middle';
      ctx.fillText(v.toFixed(5), 3369, py + 1);
      ctx.restore();
    });
  }
};

new Chart(document.getElementById('priceChart'), {
  type: 'bar',
  plugins: [priceFlags],
  data: {
    datasets: [
      { type: 'bar', order: 5, grouped: false, barThickness: 2, data: dayIndex.map(i => ({ x: i, y: [lows[i], highs[i]] })), backgroundColor: isUp.map(u => u ? GREEN : RED), borderWidth: 0 },
      { type: 'bar', order: 4, grouped: false, barThickness: 6, minBarLength: 2, data: dayIndex.map(i => ({ x: i, y: [opens[i], closes[i]] })), backgroundColor: isUp.map(u => u ? CANDLE_BLUE : RED), borderColor: isUp.map(u => u ? GREEN : RED), borderWidth: 2, borderSkipped: false },
      { type: 'line', order: 3, data: series(emaDays, emaValues), borderColor: BLUE, borderWidth: 2.5 },
      { type: 'line', order: 2, data: hLine(lastClose, xMin), borderColor: RED, borderWidth: 2, borderDash: [3, 4] },
      { type: 'line', order: 1, data: hLine(levelLines[0], levelStartDays[0]), borderColor: BLUE, borderWidth: 2 },
      { type: 'line', order: 1, data: hLine(levelLines[1], levelStartDays[1]), borderColor: BLUE, borderWidth: 2 }
    ]
  },
  options: Object.assign({}, baseOptions, {
    scales: { x: hiddenX(), y: rightAxis(-.00183, .15576, priceTicks, priceTickLabels) }
  })
});

// rsi pane
const rsiData = series(rsiValues.map((v, i) => i + rsiStartDay), rsiValues);
const rsiChart = new Chart(document.getElementById('rsiChart'), {
  type: 'line',
  data: {
    datasets: [
      { order: 9, data: hLine(rsiLevels[0], xMin), borderColor: '#787b86', borderWidth: 2, borderDash: [10, 8], fill: { target: { value: rsiLevels[2] }, above: 'rgba(126,87,194,0.1)', below: 'transparent' } },
      { order: 8, data: hLine(rsiLevels[1], xMin), borderColor: 'rgba(120,123,134,0.55)', borderWidth: 2, borderDash: [10, 8] },
      { order: 8, data: hLine(rsiLevels[2], xMin), borderColor: '#787b86', borderWidth: 2, borderDash: [10, 8] },
      { order: 4, data: rsiData, borderWidth: 0, fill: { target: { value: 70 }, above: 'rgba(76,175,80,0.4)', below: 'transparent' } },
      { order: 4, data: rsiData, borderWidth: 0, fill: { target: { value: 30 }, above: 'transparent', below: 'rgba(242,54,69,0.05)' } },
      { order: 2, data: rsiData, borderColor: '#7e57c2', borderWidth: 2.5 },
      { order: 1, data: series(rsiMaDays, rsiMaValues), borderColor: '#ffeb3b', borderWidth: 2.5 }
    ]
  },
  options: Object.assign({}, baseOptions, {
    scales: { x: hiddenX(), y: rightAxis(17.27, 104.55, rsiTicks, rsiTickLabels) }
  })
});
const rsiScale = rsiChart.scales.y;
const rsiGlow = rsiChart.ctx.createLinearGradient(0, rsiScale.getPixelForValue(96), 0, rsiScale.getPixelForValue(70));
rsiGlow.addColorStop(0, 'rgba(76,175,80,0.75)');
rsiGlow.addColorStop(1, 'rgba(76,175,80,0)');
rsiChart.data.datasets[3].fill.above = rsiGlow;
rsiChart.update('none');

// macd pane
const histColors = histValues.map((v, i) => {
  const prev = i ? histValues[i - 1] : 0;
  if (v >= 0) return v >= prev ? '#26a69a' : '#b2dfdb';
  return v <= prev ? '#ff5252' : '#ffcdd2';
});
new Chart(document.getElementById('macdChart'), {
  type: 'bar',
  data: {
    datasets: [
      { type: 'bar', order: 4, barThickness: 4, data: histValues.map((v, i) => ({ x: i + histStartDay, y: v })), backgroundColor: histColors },
      { type: 'line', order: 3, data: hLine(macdZero, xMin), borderColor: 'rgba(120,123,134,0.5)', borderWidth: 2, borderDash: [6, 6] },
      { type: 'line', order: 2, data: series(macdDays, macdValues), borderColor: BLUE, borderWidth: 2.5 },
      { type: 'line', order: 1, data: series(signalDays, signalValues), borderColor: '#ff6d00', borderWidth: 2.5 }
    ]
  },
  options: Object.assign({}, baseOptions, {
    scales: {
      x: {
        type: 'linear', offset: false, min: xMin, max: xMax,
        afterFit: s => { s.height = 70; noPadding(s); },
        afterBuildTicks: s => { s.ticks = monthDays.map(v => ({ value: v })); },
        border: { display: false },
        grid: { display: false, drawTicks: false },
        ticks: {
          autoSkip: false, maxRotation: 0, padding: 20, color: '#131722',
          font: c => ({ family: FONT, size: 31, weight: c.index === 2 ? 'bold' : 'normal' }),
          callback: (v, i) => monthLabels[i]
        }
      },
      y: rightAxis(-.01259, .02183, macdTicks, macdTickLabels)
    }
  })
});
</script>
</body>
</html>
